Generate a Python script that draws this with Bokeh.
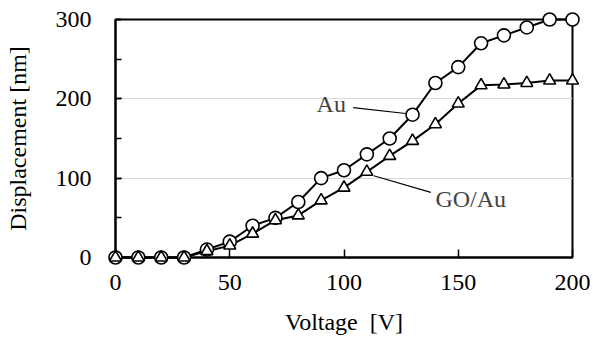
from bokeh.plotting import figure
from bokeh.models import Range1d, SingleIntervalTicker, ColumnDataSource, Label
from bokeh.embed import file_html
from bokeh.resources import INLINE

voltage = [0, 10, 20, 30, 40, 50, 60, 70, 80, 90, 100, 110, 120, 130, 140, 150, 160, 170, 180, 190, 200]
au = [0, 0, 0, 0, 10, 20, 40, 50, 70, 100, 110, 130, 150, 180, 220, 240, 270, 280, 290, 300, 300]
go_au = [0, 0, 0, 0, 8, 15, 30, 47, 53, 72, 88, 108, 128, 147, 168, 194, 217, 218, 220, 223, 223]

au_label_pos = (88, 194)
au_leader = ([104, 127], [189, 181.5])
go_label_pos = (140, 74)
go_leader = ([113, 138], [103, 82])

FONT = "Liberation Serif"
FS = "24px"

p = figure(width=593, height=347, output_backend="svg", toolbar_location=None,
           x_range=Range1d(0, 200), y_range=Range1d(0, 300),
           min_border_left=115, min_border_right=21, min_border_top=19, min_border_bottom=90)
p.background_fill_color = "white"
p.border_fill_color = "white"
p.outline_line_color = "black"
p.outline_line_width = 2

p.xaxis.ticker = SingleIntervalTicker(interval=50, num_minor_ticks=0)
p.yaxis.ticker = SingleIntervalTicker(interval=100, num_minor_ticks=2)
for ax in (p.xaxis[0], p.yaxis[0]):
    ax.axis_line_color = "black"
    ax.axis_line_width = 2
    ax.major_tick_line_color = "black"
    ax.major_tick_line_width = 1.5
    ax.minor_tick_line_color = "black"
    ax.minor_tick_line_width = 1.5
    ax.major_tick_out = 0
    ax.minor_tick_out = 0
    ax.major_label_text_font = FONT
    ax.major_label_text_font_size = FS
    ax.major_label_text_font_style = "normal"
    ax.major_label_text_color = "black"
    ax.axis_label_text_font = FONT
    ax.axis_label_text_font_size = FS
    ax.axis_label_text_font_style = "normal"
    ax.axis_label_text_color = "black"
p.xaxis.major_tick_in = 8
p.yaxis.major_tick_in = 6
p.yaxis.minor_tick_in = 6
p.xaxis.major_label_standoff = 17
p.yaxis.major_label_standoff = 24
p.xaxis.axis_label = "Voltage\u00a0\u00a0[V]"
p.yaxis.axis_label = "Displacement [nm]"
p.xaxis.axis_label_standoff = 16
p.yaxis.axis_label_standoff = 22

p.xgrid.visible = False
p.ygrid.grid_line_color = "#d9d9d9"
p.ygrid.grid_line_width = 1

src = ColumnDataSource(dict(v=voltage, au=au, go=go_au))
p.line("v", "au", source=src, line_color="black", line_width=2, level="overlay")
p.line("v", "go", source=src, line_color="black", line_width=2, level="overlay")
p.scatter("v", "au", source=src, marker="circle", size=13, fill_color="white",
          line_color="black", line_width=1.6, level="overlay")
p.scatter("v", "go", source=src, marker="triangle", size=12, fill_color="white",
          line_color="black", line_width=1.6, level="overlay")

p.line(au_leader[0], au_leader[1], line_color="black", line_width=1.2)
p.line(go_leader[0], go_leader[1], line_color="black", line_width=1.2)
p.add_layout(Label(x=au_label_pos[0], y=au_label_pos[1], text="Au", text_font=FONT,
                   text_font_size=FS, text_baseline="middle", text_align="left"))
p.add_layout(Label(x=go_label_pos[0], y=go_label_pos[1], text="GO/Au", text_font=FONT,
                   text_font_size=FS, text_baseline="middle", text_align="left"))

open("out.html", "w").write(file_html(p, INLINE))
